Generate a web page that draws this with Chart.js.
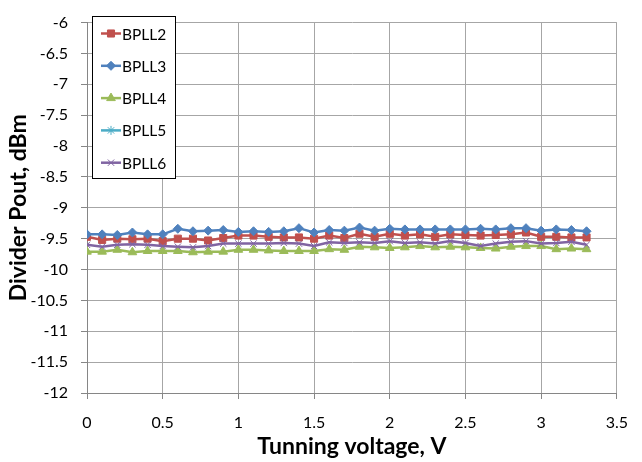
<!DOCTYPE html>
<html>
<head>
<meta charset="utf-8">
<script src="https://cdn.jsdelivr.net/npm/chart.js@4/dist/chart.umd.min.js"></script>
<style>
  html, body { margin: 0; padding: 0; background: #fff; }
  #wrap { width: 642px; height: 462px; }
</style>
</head>
<body>
<div id="wrap"><canvas id="mc" width="642" height="462"></canvas></div>
<script>
const volts = [0, 0.1, 0.2, 0.3, 0.4, 0.5, 0.6, 0.7, 0.8, 0.9, 1, 1.1, 1.2, 1.3, 1.4, 1.5, 1.6,
    1.7, 1.8, 1.9, 2, 2.1, 2.2, 2.3, 2.4, 2.5, 2.6, 2.7, 2.8, 2.9, 3, 3.1, 3.2, 3.3];

const bpll2 = [-9.47, -9.52, -9.50, -9.51, -9.50, -9.54, -9.50, -9.50, -9.53,
    -9.49, -9.45, -9.45, -9.47, -9.48, -9.48, -9.50, -9.45, -9.49,
    -9.42, -9.47, -9.42, -9.45, -9.43, -9.47, -9.43, -9.44,
    -9.45, -9.44, -9.43, -9.40, -9.47, -9.47, -9.48, -9.48];
const bpll3 = [-9.43, -9.43, -9.44, -9.40, -9.43, -9.43, -9.34, -9.38, -9.37,
    -9.36, -9.39, -9.38, -9.39, -9.38, -9.33, -9.40, -9.36, -9.37,
    -9.32, -9.37, -9.34, -9.35, -9.35, -9.35, -9.35, -9.35,
    -9.34, -9.35, -9.33, -9.33, -9.37, -9.35, -9.36, -9.38];
const bpll4 = [-9.71, -9.71, -9.68, -9.72, -9.70, -9.70, -9.70, -9.72, -9.71,
    -9.71, -9.68, -9.68, -9.69, -9.70, -9.70, -9.70, -9.67, -9.68,
    -9.63, -9.64, -9.65, -9.64, -9.62, -9.64, -9.63, -9.64,
    -9.65, -9.66, -9.63, -9.62, -9.62, -9.67, -9.66, -9.67];
const bpll5 = [];
const bpll6 = [-9.60, -9.63, -9.60, -9.59, -9.60, -9.62, -9.63, -9.64, -9.62,
    -9.58, -9.58, -9.58, -9.58, -9.57, -9.58, -9.62, -9.56, -9.57,
    -9.56, -9.57, -9.54, -9.57, -9.56, -9.58, -9.54, -9.57,
    -9.62, -9.58, -9.55, -9.54, -9.58, -9.57, -9.55, -9.60];

const FONT = 'Lato, "Liberation Sans", sans-serif';

function pts(arr) {
    return arr.map((v, i) => ({ x: volts[i], y: v }));
}

function series(label, arr, color, style, r, order) {
    return {
        label: label,
        data: pts(arr),
        showLine: true,
        borderColor: color,
        backgroundColor: color,
        borderWidth: 2.5,
        pointStyle: style,
        pointRadius: r,
        pointBorderWidth: 1,
        pointBackgroundColor: color,
        pointBorderColor: color,
        order: order
    };
}

const fmt = v => String(Math.round(v * 10) / 10);

// legend drawn inside the plot, Excel style
const legendBox = {
    id: 'legendBox',
    afterDraw(chart) {
        const g = chart.ctx;
        g.save();
        g.fillStyle = '#fff';
        g.fillRect(92.5, 16.5, 83, 162);
        g.strokeStyle = '#000';
        g.lineWidth = 1;
        g.strokeRect(92.5, 16.5, 83, 162);
        chart.data.datasets.forEach((ds, i) => {
            const y = 33.5 + i * 32.3;
            g.strokeStyle = ds.borderColor;
            g.lineWidth = 2.5;
            g.beginPath();
            g.moveTo(101, y);
            g.lineTo(121, y);
            g.stroke();
            g.fillStyle = ds.borderColor;
            g.lineWidth = 1;
            Chart.helpers.drawPoint(g, {
                pointStyle: ds.pointStyle, radius: ds.pointRadius,
                rotation: 0, borderWidth: 1
            }, 111, y);
            g.fillStyle = '#000';
            g.font = '15.5px ' + FONT;
            g.textBaseline = 'middle';
            g.fillText(ds.label, 122, y + 1);
        });
        g.restore();
    }
};

new Chart(document.getElementById('mc'), {
    type: 'scatter',
    data: {
        datasets: [
            series('BPLL2', bpll2, '#C0504D', 'rect', 5, 5),
            series('BPLL3', bpll3, '#4F81BD', 'rectRot', 4.5, 4),
            series('BPLL4', bpll4, '#9BBB59', 'triangle', 5, 3),
            series('BPLL5', bpll5, '#4BACC6', 'star', 4.5, 2),
            series('BPLL6', bpll6, '#8064A2', 'crossRot', 4.5, 1)
        ]
    },
    options: {
        responsive: false,
        animation: false,
        layout: { padding: { left: 0, right: 12, top: 12, bottom: 0 } },
        plugins: {
            legend: { display: false },
            tooltip: { enabled: false }
        },
        scales: {
            x: {
                type: 'linear',
                min: 0,
                max: 3.5,
                afterFit: s => { s.height = 69; },
                ticks: { stepSize: 0.5, color: '#000', padding: 14, callback: fmt,
                    font: { family: FONT, size: 16 } },
                grid: { color: '#a6a6a6', lineWidth: 1, tickLength: 6, tickColor: '#868686' },
                border: { color: '#868686', width: 1 },
                title: {
                    display: true,
                    text: 'Tunning voltage, V',
                    color: '#000',
                    padding: { top: 0, bottom: 2 },
                    font: { family: FONT, size: 23, weight: 'bold' }
                }
            },
            y: {
                min: -12,
                max: -6,
                afterFit: s => { s.width = 87; },
                ticks: { stepSize: 0.5, color: '#000', padding: 13, callback: fmt,
                    font: { family: FONT, size: 16 } },
                grid: { color: '#a6a6a6', lineWidth: 1, tickLength: 6, tickColor: '#868686' },
                border: { color: '#868686', width: 1 },
                title: {
                    display: true,
                    text: 'Divider Pout, dBm',
                    color: '#000',
                    padding: { top: 5, bottom: 0 },
                    font: { family: FONT, size: 23, weight: 'bold' }
                }
            }
        }
    },
    plugins: [legendBox]
});
</script>
</body>
</html>
